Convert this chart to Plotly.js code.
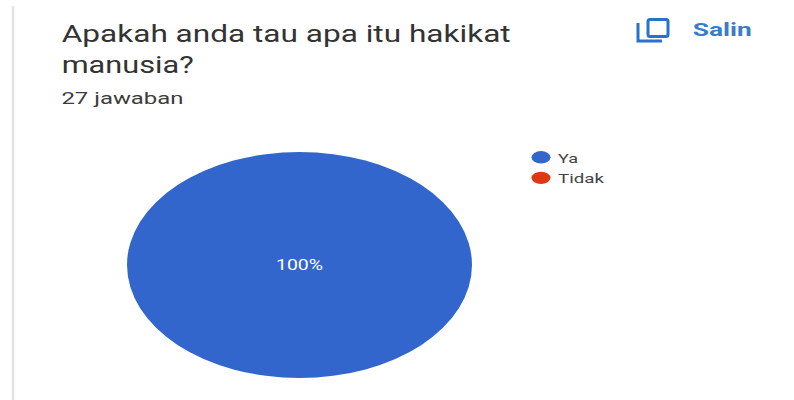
<!DOCTYPE html>
<html>
<head>
<meta charset="utf-8">
<script src="https://cdn.plot.ly/plotly-3.0.1.min.js"></script>
<style>html,body{margin:0;padding:0;background:#fff}#chart{width:794px;height:400px}</style>
</head>
<body>
<div id="chart"></div>
<script>
// Survey answers
const categories = ['Ya', 'Tidak'];
const answers = [27, 0];
const sliceColors = ['#3366cc', '#dc3912'];
const questionLines = ['Apakah anda tau apa itu hakikat', 'manusia?'];
const responseCount = '27 jawaban';
const copyLabel = 'Salin';

const W = 794, H = 400;
const px = v => v / W;
const py = v => 1 - v / H;
const FONT = 'Roboto, sans-serif';

// The pie is drawn round, then widened about its centre into an oval
const PIE_CX = 299.5, PIE_CY = 265, PIE_RY = 113, PIE_RX = 172.5;

const trace = {
  type: 'pie',
  labels: categories,
  values: answers,
  sort: false,
  marker: {colors: sliceColors, line: {width: 0}},
  textinfo: 'percent',
  textposition: 'inside',
  insidetextorientation: 'horizontal',
  insidetextfont: {family: FONT, size: 14.5, color: '#ffffff'},
  domain: {
    x: [px(PIE_CX - PIE_RY), px(PIE_CX + PIE_RY)],
    y: [py(PIE_CY + PIE_RY), py(PIE_CY - PIE_RY)]
  },
  hoverinfo: 'label+percent'
};

// Text centred on its horizontal span; the span is applied after plotting
const textNote = (text, left, width, y, size, color) => ({
  xref: 'paper', yref: 'paper', x: px(left + width / 2), y: py(y),
  xanchor: 'center', yanchor: 'middle', showarrow: false,
  text, font: {family: FONT, size, color}
});

const annotationWidths = [449, 132, 122, 59];
const legendWidths = [20, 46];

// Rounded rectangle outline in paper coordinates
const roundedRect = (x0, y0, x1, y1, r) =>
  `M ${px(x0 + r)} ${py(y0)} L ${px(x1 - r)} ${py(y0)} Q ${px(x1)} ${py(y0)} ${px(x1)} ${py(y0 + r)} ` +
  `L ${px(x1)} ${py(y1 - r)} Q ${px(x1)} ${py(y1)} ${px(x1 - r)} ${py(y1)} ` +
  `L ${px(x0 + r)} ${py(y1)} Q ${px(x0)} ${py(y1)} ${px(x0)} ${py(y1 - r)} ` +
  `L ${px(x0)} ${py(y0 + r)} Q ${px(x0)} ${py(y0)} ${px(x0 + r)} ${py(y0)} Z`;

const layout = {
  width: W, height: H,
  margin: {l: 0, r: 0, t: 0, b: 0, pad: 0},
  paper_bgcolor: '#ffffff',
  showlegend: true,
  legend: {
    x: px(518), y: py(142), xanchor: 'left', yanchor: 'top',
    font: {family: FONT, size: 13.5, color: '#444444'},
    itemwidth: 30, bgcolor: 'rgba(0,0,0,0)', borderwidth: 0
  },
  annotations: [
    textNote(questionLines[0], 61, annotationWidths[0], 33, 24.5, '#333333'),
    textNote(questionLines[1], 61, annotationWidths[1], 64, 24.5, '#333333'),
    textNote(responseCount, 61, annotationWidths[2], 98, 17, '#3c3c3c'),
    textNote('<b>' + copyLabel + '</b>', 693, annotationWidths[3], 29, 19, '#3a7cca')
  ],
  shapes: [
    // page edge
    {type: 'line', xref: 'paper', yref: 'paper', x0: px(13), x1: px(13), y0: py(6), y1: 0,
     line: {color: '#e4e4e4', width: 2.5}},
    // copy icon: front sheet
    {type: 'path', xref: 'paper', yref: 'paper',
     path: roundedRect(648, 19.5, 668, 36.5, 2),
     line: {color: '#2a72c9', width: 3}},
    // copy icon: back sheet
    {type: 'path', xref: 'paper', yref: 'paper',
     path: `M ${px(638)} ${py(23)} L ${px(638)} ${py(41)} L ${px(662)} ${py(41)}`,
     line: {color: '#2a72c9', width: 3}}
  ]
};

const widen = (el, width) => {
  el.setAttribute('textLength', width);
  el.setAttribute('lengthAdjust', 'spacingAndGlyphs');
};

Plotly.newPlot('chart', [trace], layout, {displayModeBar: false, responsive: false}).then(gd => {
  // widen the slices about the pie centre, leaving the percentage text undistorted
  gd.querySelectorAll('.pielayer .slice path.surface').forEach(p => {
    p.setAttribute('transform',
      `translate(${PIE_CX},0) scale(${PIE_RX / PIE_RY},1) translate(${-PIE_CX},0)`);
  });
  gd.querySelectorAll('.pielayer .slicetext text').forEach(t => widen(t, 47));
  gd.querySelectorAll('.annotation-text').forEach((t, i) => widen(t, annotationWidths[i]));
  gd.querySelectorAll('.legendtext').forEach((t, i) => widen(t, legendWidths[i]));
  // the wider legend labels need room beyond the computed legend box
  gd.querySelectorAll('.legend, .legend .scrollbox').forEach(g => g.removeAttribute('clip-path'));
  gd.querySelectorAll('.legend, .legend .scrollbox').forEach(g => { g.style.clipPath = 'none'; });
  // oval legend swatches
  gd.querySelectorAll('.legendpoints path').forEach(p => {
    p.setAttribute('d', 'M-6.5,0A9.5,6.2 0 1,1 12.5,0A9.5,6.2 0 1,1 -6.5,0Z');
  });
});
</script>
</body>
</html>
